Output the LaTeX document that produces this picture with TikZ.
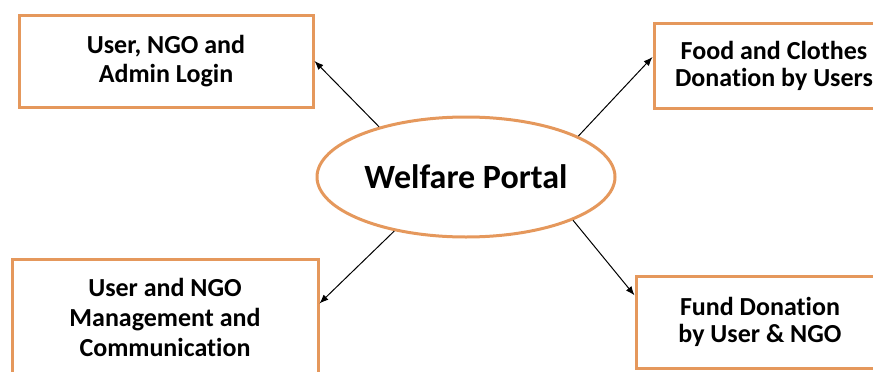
\documentclass[tikz,border=0pt]{standalone}
\usepackage{fontspec}
\setmainfont{Carlito}[Ligatures=CommonOff]
\usepackage{tikz}
\usetikzlibrary{positioning, arrows.meta, calc, shapes.geometric}
\definecolor{boxorange}{RGB}{229,152,92}
\tikzset{box node/.style={rectangle, draw=boxorange, line width=3pt, fill=white, align=center, inner sep=2pt, font=\bfseries\fontsize{26}{30}\selectfont},}
\tikzset{tight node/.style={box node, font=\bfseries\fontsize{26}{27}\selectfont},}
\tikzset{portal node/.style={ellipse, draw=boxorange, line width=3pt, fill=white, inner sep=0pt, font=\bfseries\fontsize{34}{40}\selectfont},}

\begin{document}
\begin{tikzpicture}[x=1pt, y=-1pt, -{Latex[length=9pt, width=7pt]}, line width=1pt]
		\useasboundingbox (0,0) rectangle (873,372);
		\begin{scope}
		\clip (0,0) rectangle (873,372);
		% Nodes
		\node[portal node, minimum width=298pt, minimum height=120pt] (portal) at (466,177) {Welfare Portal};
		\node[box node, minimum width=294pt, minimum height=92pt, font=\bfseries\fontsize{26}{29}\selectfont] (login) at (166,61) {User, NGO and\\Admin Login};
		\node[tight node, minimum width=240pt, minimum height=85pt] (food) at (774,65.5) {Food and Clothes\\Donation by Users};
		\node[box node, minimum width=306pt, minimum height=116pt] (manage) at (165,317) {User and NGO\\Management and\\Communication};
		\node[tight node, minimum width=248pt, minimum height=92pt] (fund) at (760,322) {Fund Donation\\by User \& NGO};
		% Arrows
		\draw (portal.150) -- (login.east);
		\draw (portal.20) -- (food.176);
		\draw (portal.217) -- (manage.5);
		\draw (portal.-22) -- (fund.168);
		\end{scope}
	\end{tikzpicture}
\end{document}
